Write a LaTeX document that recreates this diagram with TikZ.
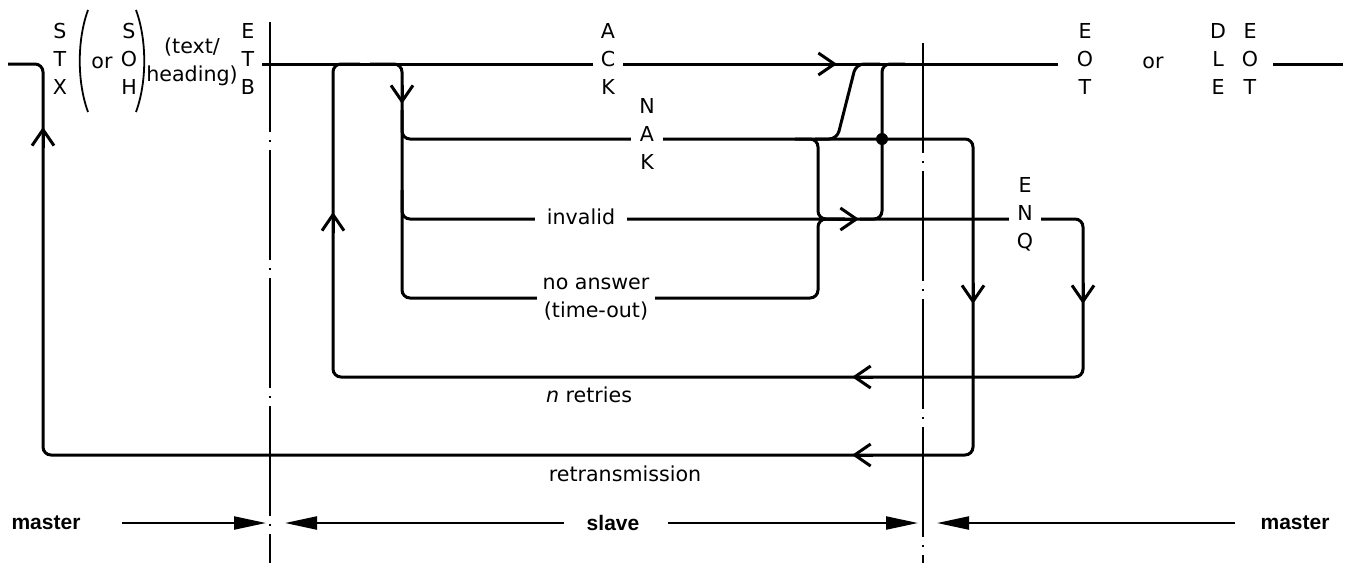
\documentclass[tikz,border=0pt]{standalone}
\usepackage{fontspec}
\setmainfont{DejaVu Sans}
\newfontfamily\rolefont{Liberation Sans}
\usetikzlibrary{arrows.meta}

\begin{document}
\begin{tikzpicture}[x=0.5pt,y=-0.5pt,
  wire/.style={line width=1.5pt,rounded corners=4pt},
  chev/.style={line width=1.5pt,-{Straight Barb[length=8pt,width=11pt]}},
  axis/.style={line width=0.7pt,dash pattern=on 55pt off 4pt on 1pt off 4pt},
  span/.style={line width=1.1pt,-{Triangle[length=16pt,width=6.5pt]}},
  chars/.style={align=center,font=\fontsize{10.3}{14}\selectfont,inner sep=0pt},
  gap/.style={fill=white,inner xsep=4pt,inner ysep=2pt},
  role/.style={font=\rolefont\bfseries\fontsize{10.5}{12}\selectfont}]
  \useasboundingbox (0,0) rectangle (1352,563);
  \draw[axis] (270,22) -- (270,563);
  \draw[axis] (923,43) -- (923,563);
  \draw[wire] (262,64) -- (1058,64);
  \draw[wire] (1273,64) -- (1343,64);
  \draw[wire] (402,110) -- (402,139) -- (973,139) -- (973,455) -- (43,455) -- (43,64) -- (8,64);
  \draw[wire] (402,190) -- (402,219) -- (1083,219) -- (1083,377) -- (333,377) -- (333,64) -- (360,64);
  \draw[wire] (370,64) -- (402,64) -- (402,298) -- (818,298) -- (818,219) -- (845,219);
  \draw[wire] (795,139) -- (818,139) -- (818,219) -- (845,219);
  \draw[wire] (815,139) -- (837,139) -- (856,64) -- (880,64);
  \draw[wire] (860,219) -- (882,219) -- (882,64) -- (905,64);
  \fill (882,139) circle (3pt);
  \draw[chev] (816,64) -- (837,64);
  \draw[chev] (402,85) -- (402,104);
  \draw[chev] (838,219) -- (859,219);
  \draw[chev] (973,283) -- (973,304);
  \draw[chev] (1083,283) -- (1083,304);
  \draw[chev] (873,377) -- (852,377);
  \draw[chev] (873,455) -- (852,455);
  \draw[chev] (333,233) -- (333,212);
  \draw[chev] (43,148) -- (43,127);
  \draw[line width=0.9pt] (88,10) .. controls (77,40) and (77,82) .. (88,112);
  \draw[line width=0.9pt] (136,10) .. controls (147,40) and (147,82) .. (136,112);
  \node[chars] (stx) at (60,59) {S\\T\\X};
  \node[chars,anchor=base] (orl) at (102,68) {or};
  \node[chars] (soh) at (129,59) {S\\O\\H};
  \node[chars] (text) at (192,62) {(text/\\heading)};
  \node[chars] (etb) at (248,59) {E\\T\\B};
  \node[chars,gap] (ack) at (608,59) {A\\C\\K};
  \node[chars,gap] (nak) at (647,134) {N\\A\\K};
  \node[chars,gap] (enq) at (1025,214) {E\\N\\Q};
  \node[chars,gap,inner xsep=6pt] (invalid) at (581,217) {invalid};
  \node[chars,gap,inner xsep=3pt] (noanswer) at (596,299) {no answer\\(time-out)};
  \node[chars] (retries) at (589,395) {\textit{n} retries};
  \node[chars] (retrans) at (625,474) {retransmission};
  \node[chars] (eot) at (1085,59) {E\\O\\T};
  \node[chars,anchor=base] (orr) at (1153,68) {or};
  \node[chars] (dle) at (1218,59) {D\\L\\E};
  \node[chars] (dleeot) at (1250,59) {E\\O\\T};
  \node[role] (masterl) at (46,523) {master};
  \node[role] (slave) at (613,523) {slave};
  \node[role] (masterr) at (1295,523) {master};
  \draw[span] (122,523) -- (266,523);
  \draw[span] (564,523) -- (285,523);
  \draw[span] (668,523) -- (918,523);
  \draw[span] (1235,523) -- (937,523);
\end{tikzpicture}
\end{document}
